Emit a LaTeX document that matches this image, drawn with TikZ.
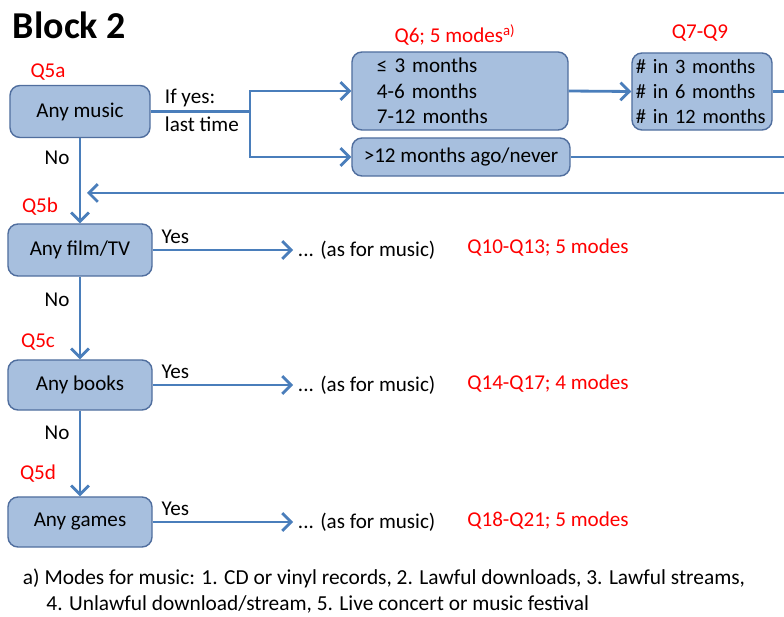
\documentclass[tikz,border=0pt]{standalone}
\usepackage{fontspec}
\setmainfont{Carlito}
\usetikzlibrary{arrows.meta}
\definecolor{boxfill}{RGB}{167,191,222}
\definecolor{boxedge}{RGB}{80,110,158}
\definecolor{flowblue}{RGB}{74,126,187}
\definecolor{qred}{RGB}{255,0,0}
\begin{document}
\begin{tikzpicture}[x=0.025cm,y=-0.025cm,
    txt/.style={font=\fontsize{15}{18}\selectfont},
    qbox/.style={txt,draw=boxedge,fill=boxfill,line width=1pt,rounded corners=0.25cm,inner sep=0pt},
    qlabel/.style={txt,text=qred},
    yes/.style={txt,pos=0,anchor=south west,xshift=2pt},
    line/.style={draw=flowblue,line width=2pt},
    link/.style={line,-{Straight Barb[length=2.2mm,width=4.4mm]}}]
    \useasboundingbox (0,0) rectangle (784,617);
    \path (8,25) node[anchor=west,font=\bfseries\fontsize{27}{30}\selectfont](title){Block 2};
    % music
    \path (48,72) node[qlabel](q5a){Q5a};
    \path (80,111.5) node[qbox,minimum width=3.5cm,minimum height=1.3cm](music){Any music};
    \path (160,110) node[txt,anchor=west,align=left,font=\fontsize{15}{20}\selectfont](ifyes){If yes:\\last time};
    \path (455,35) node[qlabel](q6){Q6; 5 modes\textsuperscript{a)}};
    \path (460,91) node[qbox,minimum width=5.4cm,minimum height=1.95cm,text width=4.15cm,align=left](recent){≤ 3 months\\4-6 months\\7-12 months};
    \path (461,157) node[qbox,minimum width=5.45cm,minimum height=0.95cm](never){>12 months ago/never};
    \path (700,33) node[qlabel](q7){Q7-Q9};
    \path (702,91.5) node[qbox,font=\fontsize{14.5}{18}\selectfont,minimum width=3.5cm,minimum height=1.925cm,text width=3.3cm,align=left](counts){\# in 3 months\\\# in 6 months\\\# in 12 months};
    \coordinate (fork) at (250,111.5);
    \coordinate (out1) at (784,91.5);
    \coordinate (out2) at (784,157);
    \coordinate (back) at (784,193);
    \coordinate (rejoin) at (87,193);
    \draw[line] (music.east) -- (fork);
    \draw[link] (fork) |- (recent.west);
    \draw[link] (fork) |- (never.west);
    \draw[link] (recent.east) -- (counts.west);
    \draw[line] (counts.east) -- (out1);
    \draw[line] (never.east) -- (out2);
    \draw[link] (back) -- (rejoin);
    % film
    \path (57,158) node[txt](no1){No};
    \path (40,207) node[qlabel](q5b){Q5b};
    \path (80,250) node[qbox,minimum width=3.6cm,minimum height=1.3cm](film){Any film/TV};
    \path (293,250) node[txt,anchor=west](filmmore){... (as for music)};
    \path (548,248) node[qlabel](q10){Q10-Q13; 5 modes};
    \draw[link] (music.south) -- (film.north);
    \draw[link] (film.east) -- node[yes]{Yes} (filmmore.west);
    % books
    \path (57,300) node[txt](no2){No};
    \path (38,342) node[qlabel](q5c){Q5c};
    \path (80,385) node[qbox,minimum width=3.6cm,minimum height=1.25cm](books){Any books};
    \path (293,385) node[txt,anchor=west](booksmore){... (as for music)};
    \path (548,384) node[qlabel](q14){Q14-Q17; 4 modes};
    \draw[link] (film.south) -- (books.north);
    \draw[link] (books.east) -- node[yes]{Yes} (booksmore.west);
    % games
    \path (57,433) node[txt](no3){No};
    \path (38,474) node[qlabel](q5d){Q5d};
    \path (80,522) node[qbox,minimum width=3.6cm,minimum height=1.25cm](games){Any games};
    \path (293,522) node[txt,anchor=west](gamesmore){... (as for music)};
    \path (548,521) node[qlabel](q18){Q18-Q21; 5 modes};
    \draw[link] (books.south) -- (games.north);
    \draw[link] (games.east) -- node[yes]{Yes} (gamesmore.west);
    % footnote
    \path (18,591) node[anchor=west,align=left,font=\fontsize{15.2}{18.5}\selectfont](note){a) Modes for music: 1. CD or vinyl records, 2. Lawful downloads, 3. Lawful streams,\\\hspace*{1.1em}4. Unlawful download/stream, 5. Live concert or music festival};
\end{tikzpicture}
\end{document}
